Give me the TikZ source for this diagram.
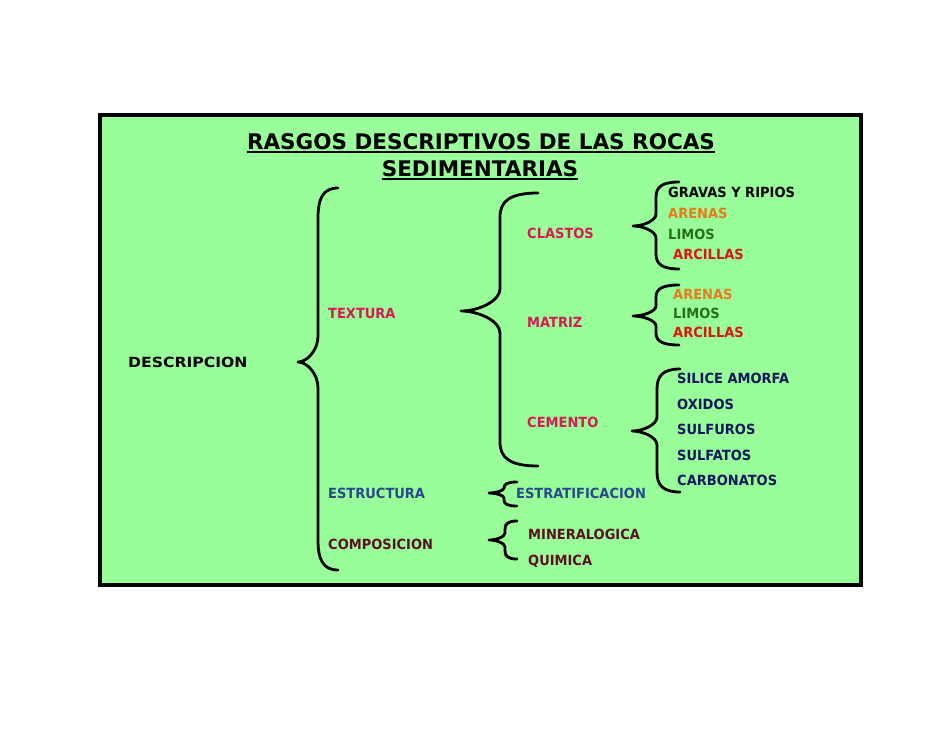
\documentclass[tikz,border=0pt]{standalone}
\usepackage{fontspec}
\setmainfont{DejaVu Sans}
\newfontfamily\lblfont{DejaVu Sans}[BoldFeatures={FakeStretch=0.93}]
\definecolor{bgreen}{RGB}{153,253,153}
\definecolor{crim}{RGB}{213,27,84}
\definecolor{orng}{RGB}{232,122,30}
\definecolor{dgreen}{RGB}{40,112,22}
\definecolor{rred}{RGB}{222,22,18}
\definecolor{navy}{RGB}{12,22,92}
\definecolor{sblue}{RGB}{42,72,140}
\definecolor{maroon}{RGB}{92,16,36}
\tikzset{
  lbl/.style={anchor=base west, inner sep=0pt, font=\lblfont\bfseries\fontsize{14}{16}\selectfont},
  ttl/.style={anchor=base, inner sep=0pt, font=\bfseries\fontsize{21.5}{24}\selectfont},
  bracestyle/.style={line width=2.8pt, line cap=round, line join=round},
}
% #1 xend, #2 xv, #3 xtip, #4 ytop, #5 ytip, #6 ybot, #7 hEnd, #8 hTip
\newcommand{\mybrace}[8]{%
  \draw[bracestyle] (#1,#4)
    .. controls ({#2+0.25*(#1-#2)},#4) and (#2,{#4+0.35*#7}) .. (#2,{#4+#7})
    -- (#2,{#5-#8})
    .. controls (#2,{#5-0.45*#8}) and ({#3+0.45*(#2-#3)},#5) .. (#3,#5)
    .. controls ({#3+0.45*(#2-#3)},#5) and (#2,{#5+0.45*#8}) .. (#2,{#5+#8})
    -- (#2,{#6-#7})
    .. controls (#2,{#6-0.35*#7}) and ({#2+0.25*(#1-#2)},#6) .. (#1,#6);}
\begin{document}
\begin{tikzpicture}[x=1pt,y=-1pt]
\useasboundingbox (0,0) rectangle (942,728);
\fill[white] (0,0) rectangle (942,728);
\draw[line width=4pt, fill=bgreen] (100,115) rectangle (861,585);
% title
\node[ttl] (t1) at (481,149) {RASGOS DESCRIPTIVOS DE LAS ROCAS};
\node[ttl] (t2) at (480,176) {SEDIMENTARIAS};
\draw[line width=1.8pt] ([yshift=-3pt]t1.base west) -- ([yshift=-3pt]t1.base east);
\draw[line width=1.8pt] ([yshift=-3pt]t2.base west) -- ([yshift=-3pt]t2.base east);
% level 0
\node[lbl] (desc) at (128,367) {\scalebox{1.2}[1]{DESCRIPCION}};
% level 1
\node[lbl, crim] (textura) at (328,318) {TEXTURA};
\node[lbl, sblue] (estructura) at (328,498) {ESTRUCTURA};
\node[lbl, maroon] (composicion) at (328,549) {COMPOSICION};
% level 2
\node[lbl, crim] (clastos) at (527,238) {CLASTOS};
\node[lbl, crim] (matriz) at (527,327) {MATRIZ};
\node[lbl, crim] (cemento) at (527,427) {CEMENTO};
\node[lbl, sblue] (estrat) at (516,498) {ESTRATIFICACION};
\node[lbl, maroon] (miner) at (528,539) {MINERALOGICA};
\node[lbl, maroon] (quim) at (528,565) {QUIMICA};
% level 3
\node[lbl] (gravas) at (668,197) {GRAVAS Y RIPIOS};
\node[lbl, orng] (arenasA) at (668,218) {ARENAS};
\node[lbl, dgreen] (limosA) at (668,239) {LIMOS};
\node[lbl, rred] (arcillasA) at (673,259) {ARCILLAS};
\node[lbl, orng] (arenasB) at (673,299) {ARENAS};
\node[lbl, dgreen] (limosB) at (673,318) {LIMOS};
\node[lbl, rred] (arcillasB) at (673,337) {ARCILLAS};
\node[lbl, navy] (silice) at (677,383) {SILICE AMORFA};
\node[lbl, navy] (oxidos) at (677,409) {OXIDOS};
\node[lbl, navy] (sulfuros) at (677,434) {SULFUROS};
\node[lbl, navy] (sulfatos) at (677,460) {SULFATOS};
\node[lbl, navy] (carbonatos) at (677,485) {CARBONATOS};
% braces
\mybrace{338}{318}{298}{188}{362}{570}{30}{26}
\mybrace{538}{500}{461}{193}{311}{466}{24}{22}
\mybrace{679}{656}{633}{182}{226}{269}{15}{12}
\mybrace{679}{656}{633}{285}{316}{345}{12}{10}
\mybrace{680}{657}{632}{369}{431}{492}{20}{14}
\mybrace{517}{504}{489}{482}{493}{506}{6}{5}
\mybrace{517}{505}{489}{521}{540}{559}{8}{7}
\end{tikzpicture}
\end{document}
